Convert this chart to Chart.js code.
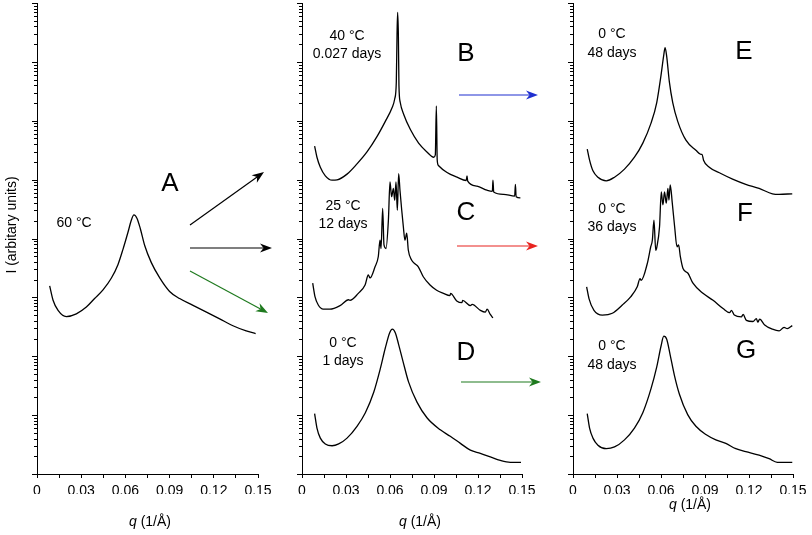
<!DOCTYPE html>
<html lang="en">
<head>
<meta charset="UTF-8">
<title>SAXS profiles</title>
<script src="https://cdn.jsdelivr.net/npm/chart.js"></script>
<style>
  body { margin: 0; background: #fff; }
  #wrap { position: relative; width: 812px; height: 535px; }
  #wrap canvas { position: absolute; left: 0; top: 0; }
</style>
</head>
<body>
<div id="wrap">
  <canvas id="panelA" width="812" height="535"></canvas>
  <canvas id="panelB" width="812" height="535"></canvas>
  <canvas id="panelE" width="812" height="535"></canvas>
</div>
<script>
// x tick labels (every other tick, ticks every 0.015)
const qTicks = ['0', '0.03', '0.06', '0.09', '0.12', '0.15'];

// A: 60 °C
const qA = [0.0086, 0.0109, 0.0143, 0.0199, 0.0267, 0.0335, 0.0391, 0.0448, 0.0505, 0.055, 0.0584, 0.0618, 0.064, 0.0658, 0.0679, 0.0701, 0.0731, 0.0776, 0.0833, 0.090, 0.0968, 0.1059, 0.115, 0.124, 0.133, 0.142, 0.1484];
const iA = [1570, 895, 601, 472, 526, 685, 957, 1340, 2130, 3630, 6610, 12900, 20400, 25100, 21900, 14800, 7590, 3890, 2140, 1260, 955, 733, 562, 431, 330, 269, 243];

// B: 40 °C, 0.027 days
const qB = [0.0086, 0.0102, 0.0125, 0.0159, 0.0205, 0.0239, 0.0307, 0.0375, 0.0443, 0.0511, 0.0568, 0.0614, 0.0632, 0.0643, 0.0648, 0.0652, 0.0657, 0.0661, 0.067, 0.0693, 0.0739, 0.0795, 0.0852, 0.0898, 0.0909, 0.0916, 0.0922, 0.0930, 0.0989, 0.1057, 0.1120, 0.1125, 0.1130, 0.1193, 0.1261, 0.1298, 0.1302, 0.1307, 0.1375, 0.1450, 0.1455, 0.1460, 0.1489];
const iB = [3.72e5, 2.40e5, 1.62e5, 1.16e5, 9.77e4, 9.91e4, 1.24e5, 1.85e5, 2.95e5, 5.37e5, 9.77e5, 1.66e6, 2.34e6, 4.57e6, 2.95e7, 6.92e7, 2.95e7, 3.98e6, 2.04e6, 1.29e6, 7.08e5, 4.17e5, 2.95e5, 2.40e5, 2.63e5, 1.78e6, 2.14e5, 1.74e5, 1.32e5, 1.10e5, 9.66e4, 1.16e5, 9.44e4, 7.76e4, 6.61e4, 6.31e4, 9.77e4, 6.17e4, 5.62e4, 5.25e4, 8.32e4, 5.13e4, 4.90e4];

// C: 25 °C, 12 days
const qC = [0.0073, 0.0089, 0.0111, 0.0145, 0.0191, 0.0259, 0.0318, 0.0327, 0.0384, 0.043, 0.0452, 0.0464, 0.0498, 0.052, 0.0532, 0.0539, 0.055, 0.0559, 0.0573, 0.0589, 0.060, 0.0611, 0.0623, 0.0632, 0.0641, 0.065, 0.0659, 0.0668, 0.068, 0.0691, 0.0702, 0.0714, 0.0725, 0.0748, 0.077, 0.0793, 0.0827, 0.0873, 0.0918, 0.0964, 0.1009, 0.1013, 0.1055, 0.1091, 0.1095, 0.1148, 0.1160, 0.1216, 0.125, 0.1262, 0.1284, 0.1302];
const iC = [1740, 1020, 741, 631, 631, 724, 912, 891, 1170, 1620, 2400, 2140, 3310, 4900, 9330, 6760, 32400, 7760, 6760, 20400, 91200, 51300, 70800, 44700, 91200, 30200, 126000, 66100, 30200, 15800, 9330, 12300, 6310, 4270, 3720, 3310, 2240, 1620, 1320, 1170, 1070, 1170, 871, 813, 891, 724, 759, 603, 562, 631, 513, 447];

// D: 0 °C, 1 days
const qD = [0.0086, 0.0102, 0.0125, 0.0159, 0.0205, 0.025, 0.0307, 0.0375, 0.0432, 0.0489, 0.0534, 0.0568, 0.0598, 0.0616, 0.0636, 0.0659, 0.0689, 0.0727, 0.0784, 0.0852, 0.0943, 0.1011, 0.108, 0.1148, 0.1216, 0.1284, 0.1352, 0.142, 0.1493];
const iD = [10.6, 6.03, 4.07, 3.24, 3.02, 3.24, 4.07, 6.46, 11.0, 24.5, 61.7, 138, 251, 288, 251, 158, 81.3, 36.3, 16.6, 9.02, 5.62, 4.37, 3.31, 2.54, 2.24, 1.95, 1.70, 1.58, 1.58];

// E: 0 °C, 48 days
const qE = [0.0097, 0.0113, 0.0136, 0.017, 0.0227, 0.0283, 0.0351, 0.0419, 0.0476, 0.0532, 0.0571, 0.060, 0.0619, 0.0628, 0.0639, 0.0657, 0.068, 0.0714, 0.077, 0.0838, 0.0872, 0.0880, 0.0890, 0.0929, 0.1008, 0.1088, 0.1178, 0.1269, 0.136, 0.1405, 0.1495];
const iE = [3.31e5, 2.14e5, 1.41e5, 1.10e5, 9.55e4, 1.10e5, 1.51e5, 2.40e5, 4.17e5, 9.12e5, 2.04e6, 5.89e6, 1.32e7, 1.74e7, 1.23e7, 4.57e6, 2.04e6, 9.77e5, 4.68e5, 3.16e5, 2.69e5, 2.69e5, 2.14e5, 1.62e5, 1.27e5, 1.02e5, 8.32e4, 7.08e4, 5.75e4, 5.62e4, 5.75e4];

// F: 0 °C, 36 days
const qF = [0.0093, 0.0109, 0.0143, 0.0200, 0.0268, 0.0336, 0.0393, 0.0438, 0.0457, 0.0465, 0.0507, 0.053, 0.0541, 0.0552, 0.0564, 0.0572, 0.059, 0.0602, 0.0613, 0.0624, 0.0636, 0.0647, 0.0654, 0.0663, 0.0677, 0.0693, 0.0709, 0.072, 0.0732, 0.075, 0.0784, 0.0818, 0.0886, 0.0955, 0.1023, 0.1068, 0.1080, 0.1100, 0.1148, 0.1160, 0.1182, 0.1227, 0.1250, 0.1260, 0.1273, 0.1307, 0.1360, 0.1405, 0.1439, 0.1461, 0.1495];
const iF = [1510, 955, 603, 501, 537, 741, 1020, 1510, 2090, 1950, 3800, 7240, 9330, 20400, 6310, 7240, 15800, 61700, 37200, 61700, 39800, 70800, 44700, 81300, 39800, 15800, 7240, 7760, 4900, 3090, 2570, 1740, 1170, 891, 646, 550, 603, 501, 468, 513, 407, 389, 437, 380, 427, 339, 288, 269, 309, 295, 331];

// G: 0 °C, 48 days
const qG = [0.0097, 0.0113, 0.0136, 0.017, 0.0227, 0.0283, 0.0351, 0.0419, 0.0476, 0.0532, 0.0571, 0.060, 0.0619, 0.0639, 0.0662, 0.0691, 0.0725, 0.0782, 0.0838, 0.0906, 0.0974, 0.1042, 0.111, 0.1178, 0.1269, 0.1337, 0.1393, 0.1495];
const iG = [10.6, 6.03, 4.07, 3.09, 2.69, 2.88, 3.80, 6.03, 11.0, 28.2, 66.1, 148, 219, 195, 107, 47.9, 22.9, 10.2, 6.46, 4.68, 3.80, 3.31, 2.69, 2.40, 2.09, 1.82, 1.58, 1.58];

const font = '"Liberation Sans", Arial, sans-serif';

function curve(q, vals) {
  return {
    data: q.map((x, k) => ({ x: x, y: vals[k] })),
    borderColor: '#000',
    borderWidth: 1.3,
    pointRadius: 0,
    cubicInterpolationMode: 'monotone',
    fill: false
  };
}

function arrow(ctx, x1, y1, x2, y2, color) {
  const ang = Math.atan2(y2 - y1, x2 - x1);
  const len = 12, half = 4.5, notch = 3.5;
  ctx.strokeStyle = color;
  ctx.fillStyle = color;
  ctx.lineWidth = 1.2;
  ctx.beginPath();
  ctx.moveTo(x1, y1);
  ctx.lineTo(x2 - (len - notch) * Math.cos(ang), y2 - (len - notch) * Math.sin(ang));
  ctx.stroke();
  ctx.save();
  ctx.translate(x2, y2);
  ctx.rotate(ang);
  ctx.beginPath();
  ctx.moveTo(0, 0);
  ctx.lineTo(-len, -half);
  ctx.lineTo(-len + notch, 0);
  ctx.lineTo(-len, half);
  ctx.closePath();
  ctx.fill();
  ctx.restore();
}

// log minor ticks, axis titles, panel notes and arrows
const decor = {
  id: 'decor',
  afterDraw(chart, args, opts) {
    const ctx = chart.ctx;
    const ys = chart.scales.y;
    const a = chart.chartArea;
    ctx.save();
    ctx.strokeStyle = '#000';
    ctx.lineWidth = 1;
    for (let e = 0; e <= 8; e++) {
      for (let m = 1; m <= 9; m++) {
        const v = m * Math.pow(10, e);
        if (v > 1e8) break;
        const py = Math.round(ys.getPixelForValue(v)) + 0.5;
        ctx.beginPath();
        ctx.moveTo(a.left - (m === 1 ? 5 : 3), py);
        ctx.lineTo(a.left, py);
        ctx.stroke();
      }
    }

    ctx.fillStyle = '#000';
    ctx.textBaseline = 'middle';
    // x title: italic q + (1/Å)
    const t = opts.xTitle;
    ctx.font = 'italic 14px ' + font;
    const w1 = ctx.measureText('q').width;
    ctx.font = '14px ' + font;
    const w2 = ctx.measureText(' (1/\u00C5)').width;
    let sx = t[0] - (w1 + w2) / 2;
    ctx.textAlign = 'left';
    ctx.font = 'italic 14px ' + font;
    ctx.fillText('q', sx, t[1]);
    ctx.font = '14px ' + font;
    ctx.fillText(' (1/\u00C5)', sx + w1, t[1]);

    if (opts.yTitle) {
      ctx.save();
      ctx.translate(opts.yTitle[1], opts.yTitle[2]);
      ctx.rotate(-Math.PI / 2);
      ctx.textAlign = 'center';
      ctx.fillText(opts.yTitle[0], 0, 0);
      ctx.restore();
    }

    ctx.textAlign = 'center';
    opts.texts.forEach(tx => {
      ctx.font = tx[3] + 'px ' + font;
      ctx.fillText(tx[0], tx[1], tx[2]);
    });
    opts.arrows.forEach(ar => arrow(ctx, ar[0], ar[1], ar[2], ar[3], ar[4]));
    ctx.restore();
  }
};

function makePanel(id, sets, left, right, extra) {
  new Chart(document.getElementById(id), {
    type: 'line',
    data: { datasets: sets },
    plugins: [decor],
    options: {
      responsive: false,
      animation: false,
      events: [],
      layout: { padding: { left: left, right: 812 - right, top: 3, bottom: 41 } },
      plugins: { legend: { display: false }, tooltip: { enabled: false }, decor: extra },
      scales: {
        x: {
          type: 'linear', min: 0, max: 0.15,
          afterFit: s => { s.height = 20; },
          border: { display: true, color: '#000', width: 1 },
          grid: { drawOnChartArea: false, drawTicks: true, tickLength: 4, color: '#000' },
          ticks: {
            stepSize: 0.015, autoSkip: false, maxRotation: 0, padding: 5,
            color: '#000', font: { family: font, size: 14 },
            callback: (v, i) => (i % 2 === 0 ? qTicks[i / 2] : '')
          }
        },
        y: {
          type: 'logarithmic', min: 1, max: 1e8,
          afterFit: s => { s.width = 0; },
          border: { display: true, color: '#000', width: 1 },
          grid: { display: false },
          ticks: { display: false }
        }
      }
    }
  });
}

makePanel('panelA', [curve(qA, iA)], 37, 258, {
  xTitle: [150, 522],
  yTitle: ['I (arbitary units)', 12, 225],
  texts: [['60 \u00B0C', 74, 223, 14], ['A', 170, 184, 26]],
  arrows: [[190, 225, 264, 172, '#000'], [190, 248, 272, 248, '#000'], [190, 271, 268, 313, '#1f7a1f']]
});

makePanel('panelB', [curve(qB, iB), curve(qC, iC), curve(qD, iD)], 302, 522, {
  xTitle: [420, 522],
  texts: [
    ['40 \u00B0C', 347, 36, 14], ['0.027 days', 347, 54, 14], ['B', 466, 54, 26],
    ['25 \u00B0C', 343, 206, 14], ['12 days', 343, 224, 14], ['C', 466, 213, 26],
    ['0 \u00B0C', 343, 343, 14], ['1 days', 343, 361, 14], ['D', 466, 353, 26]
  ],
  arrows: [[459, 95, 538, 95, '#1f2fd0'], [457, 246, 538, 246, '#e8231f'], [461, 382, 541, 382, '#1f7a1f']]
});

makePanel('panelE', [curve(qE, iE), curve(qF, iF), curve(qG, iG)], 573, 793, {
  xTitle: [690, 505],
  texts: [
    ['0 \u00B0C', 612, 34, 14], ['48 days', 612, 53, 14], ['E', 744, 52, 26],
    ['0 \u00B0C', 612, 209, 14], ['36 days', 612, 227, 14], ['F', 745, 214, 26],
    ['0 \u00B0C', 612, 346, 14], ['48 days', 612, 365, 14], ['G', 746, 351, 26]
  ],
  arrows: []
});
</script>
</body>
</html>
